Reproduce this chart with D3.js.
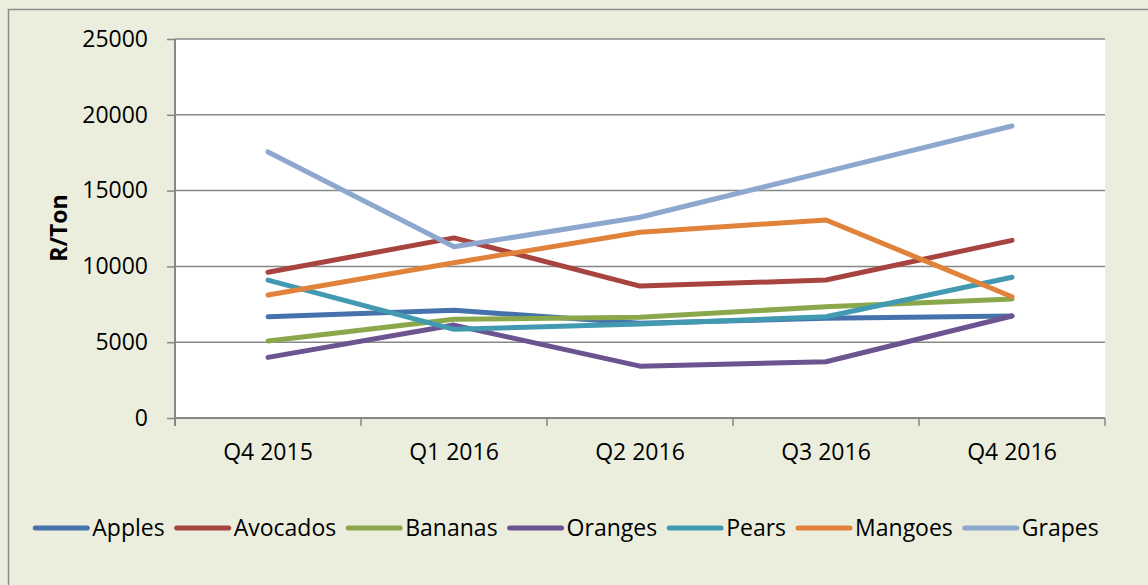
<!DOCTYPE html>
<html>
<head>
<meta charset="utf-8">
<script src="https://cdn.jsdelivr.net/npm/d3@7"></script>
<style>
    body { margin: 0; background: #ebeedd; }
    svg { display: block; font-family: "Open Sans", sans-serif; }
</style>
</head>
<body>
<div class="curr-graff"></div>
<script>
// data
let quarters = ["Q4 2015", "Q1 2016", "Q2 2016", "Q3 2016", "Q4 2016"];
let yTicks = [0, 5000, 10000, 15000, 20000, 25000];

let apples   = [6680, 7100, 6250, 6580, 6730];
let avocados = [9610, 11880, 8700, 9100, 11720];
let bananas  = [5080, 6510, 6640, 7340, 7850];
let oranges  = [4000, 6130, 3420, 3710, 6730];
let pears    = [9100, 5850, 6200, 6680, 9280];
let mangoes  = [8110, 10240, 12250, 13060, 8000];
let grapes   = [17550, 11300, 13240, 16250, 19260];

let seriesNames = ["Apples", "Avocados", "Bananas", "Oranges", "Pears", "Mangoes", "Grapes"];
let seriesValues = [apples, avocados, bananas, oranges, pears, mangoes, grapes];
let seriesColors = ["#4672ab", "#a8443f", "#8aa84b", "#6b548f", "#429ab2", "#e08239", "#8da7cf"];

function drawChart() {
    let width = 1148;
    let height = 585;

    let left = 175, right = 1105, top = 39, bottom = 418;
    let fontSize = "23px";

    let svg = d3.select(".curr-graff")
        .append("svg")
        .attr("width", width)
        .attr("height", height);

    // outer chart frame
    svg.append("rect")
        .attr("x", 8.5)
        .attr("y", 9.5)
        .attr("width", width)
        .attr("height", height)
        .attr("fill", "#ebeedd")
        .attr("stroke", "#8c8c8c")
        .attr("stroke-width", 1.5);

    // plot area
    svg.append("rect")
        .attr("x", left)
        .attr("y", top)
        .attr("width", right - left)
        .attr("height", bottom - top)
        .attr("fill", "#ffffff");

    let xScale = d3.scaleBand()
        .domain(quarters)
        .range([left, right]);

    let yScale = d3.scaleLinear()
        .domain([0, 25000])
        .range([bottom, top]);

    // gridlines
    svg.append("g")
        .selectAll("line")
        .data(yTicks.filter(function(d) { return d > 0; }))
        .enter().append("line")
        .attr("x1", left)
        .attr("x2", right)
        .attr("y1", function(d) { return yScale(d); })
        .attr("y2", function(d) { return yScale(d); })
        .attr("stroke", "#878787")
        .attr("stroke-width", 1.5);

    // y axis
    let yAxis = d3.axisLeft(yScale)
        .tickValues(yTicks)
        .tickSize(8)
        .tickPadding(19)
        .tickFormat(function(d) { return d; });

    let gy = svg.append("g")
        .attr("transform", `translate(${left}, 0)`)
        .call(yAxis);
    gy.select(".domain").attr("stroke", "#878787").attr("stroke-width", 2)
        .attr("d", `M0,${top}V${bottom + 8}`);
    gy.selectAll(".tick line").attr("stroke", "#878787").attr("stroke-width", 1.5);
    gy.selectAll("text")
        .style("font-size", fontSize)
        .style("font-family", "Open Sans")
        .attr("fill", "#000");

    // x axis with ticks between categories
    let xAxis = d3.axisBottom(xScale)
        .tickSize(0)
        .tickPadding(26);

    let gx = svg.append("g")
        .attr("transform", `translate(0, ${bottom})`)
        .call(xAxis);
    gx.select(".domain").attr("stroke", "#878787").attr("stroke-width", 2)
        .attr("d", `M${left},0H${right}`);
    gx.selectAll("text")
        .style("font-size", fontSize)
        .style("font-family", "Open Sans")
        .attr("fill", "#000");

    let bounds = quarters.map(function(d) { return xScale(d); }).concat([right]);
    gx.selectAll(".bound")
        .data(bounds)
        .enter().append("line")
        .attr("x1", function(d) { return d; })
        .attr("x2", function(d) { return d; })
        .attr("y1", 0)
        .attr("y2", 8)
        .attr("stroke", "#878787")
        .attr("stroke-width", 1.5);

    // y axis title
    svg.append("text")
        .attr("transform", "translate(67, 228) rotate(-90)")
        .style("text-anchor", "middle")
        .style("font-size", "23px")
        .style("font-weight", "bold")
        .text("R/Ton");

    // lines
    let line = d3.line()
        .x(function(d, i) { return xScale(quarters[i]) + xScale.bandwidth() / 2; })
        .y(function(d) { return yScale(d); });

    svg.append("g")
        .selectAll("path")
        .data(seriesValues)
        .enter().append("path")
        .attr("d", function(d) { return line(d); })
        .attr("fill", "none")
        .attr("stroke", function(d, i) { return seriesColors[i]; })
        .attr("stroke-width", 5)
        .attr("stroke-linecap", "round")
        .attr("stroke-linejoin", "round");

    // legend
    let legend = svg.append("g");
    let items = legend.selectAll(".item")
        .data(seriesNames)
        .enter().append("g");

    items.append("line")
        .attr("x1", 2)
        .attr("x2", 54)
        .attr("y1", 0)
        .attr("y2", 0)
        .attr("stroke", function(d, i) { return seriesColors[i]; })
        .attr("stroke-width", 5)
        .attr("stroke-linecap", "round");

    items.append("text")
        .attr("x", 59)
        .attr("y", 8)
        .style("font-size", fontSize)
        .text(function(d) { return d; });

    let pos = 0;
    items.each(function() {
        let w = d3.select(this).select("text").node().getComputedTextLength();
        d3.select(this).attr("transform", `translate(${pos}, 0)`);
        pos += 59 + w + 10;
    });
    let total = pos - 10;
    legend.attr("transform", `translate(${566 - total / 2}, 528)`);
}

drawChart();
</script>
</body>
</html>
